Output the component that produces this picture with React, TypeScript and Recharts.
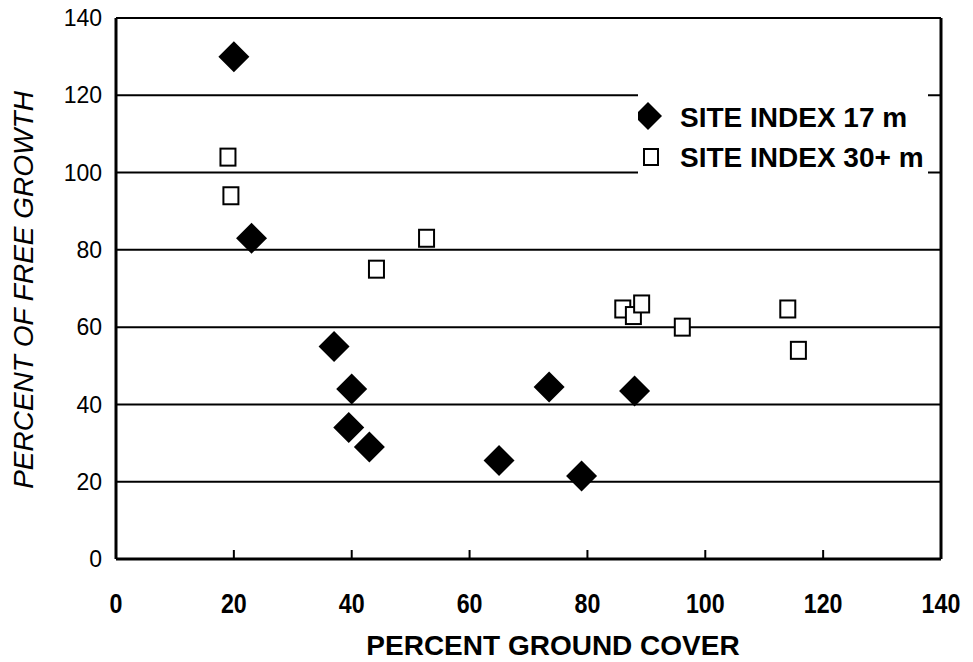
import React from "react";
import { ScatterChart, Scatter, XAxis, YAxis, CartesianGrid, ReferenceLine } from "recharts";

// values
const site17 = [
  { x: 20, y: 130 },
  { x: 23, y: 83 },
  { x: 37, y: 55 },
  { x: 40, y: 44 },
  { x: 39.5, y: 34 },
  { x: 43, y: 29 },
  { x: 65, y: 25.5 },
  { x: 73.5, y: 44.5 },
  { x: 79, y: 21.5 },
  { x: 88, y: 43.5 },
];

const site30 = [
  { x: 19, y: 104 },
  { x: 19.5, y: 94 },
  { x: 44.2, y: 75 },
  { x: 52.7, y: 83 },
  { x: 86, y: 64.7 },
  { x: 87.8, y: 63 },
  { x: 89.2, y: 66 },
  { x: 96.1, y: 60 },
  { x: 114, y: 64.7 },
  { x: 115.8, y: 54 },
];

const axisTicks = [0, 20, 40, 60, 80, 100, 120, 140];
const seriesNames = ["SITE INDEX 17 m", "SITE INDEX 30+ m"];

const FONT = "'Liberation Sans', Arial, sans-serif";

const Diamond = ({ cx, cy }: any) => (
  <polygon
    points={`${cx},${cy - 15.5} ${cx + 15.5},${cy} ${cx},${cy + 15.5} ${cx - 15.5},${cy}`}
    fill="#000"
  />
);

const Square = ({ cx, cy }: any) => (
  <rect x={cx - 7.5} y={cy - 8.5} width={15} height={17} fill="#fff" stroke="#000" strokeWidth={2} />
);

const XTick = ({ x, y, payload }: any) => (
  <g>
    {payload.value > 0 && payload.value < 140 && (
      <line x1={x} x2={x} y1={y} y2={y - 9} stroke="#000" strokeWidth={2} />
    )}
    <text
      transform={`translate(${x},${y + 54}) scale(0.83,1)`}
      textAnchor="middle"
      fontSize={28}
      fontWeight="bold"
      fontFamily={FONT}
      fill="#000"
    >
      {payload.value}
    </text>
  </g>
);

// legend box sits over the gridlines, like the original
const LegendBox = () => (
  <svg width={290} height={88} style={{ position: "absolute", left: 638, top: 92, display: "block" }}>
    <rect x={0} y={0} width={290} height={88} fill="#fff" />
    <polygon points="10,10 24,24 10,38 -4,24" fill="#000" />
    <text x={42} y={35} fontSize={28} fontWeight="bold" fontFamily={FONT} fill="#000">
      {seriesNames[0]}
    </text>
    <rect x={6} y={57} width={14} height={16} fill="#fff" stroke="#000" strokeWidth={2} />
    <text x={42} y={75} fontSize={28} fontWeight="bold" fontFamily={FONT} fill="#000">
      {seriesNames[1]}
    </text>
  </svg>
);

export default function App() {
  return (
    <div style={{ position: "absolute", left: 0, top: 0, width: 973, height: 662, background: "#fff" }}>
      <ScatterChart width={973} height={662} margin={{ top: 18, right: 32, bottom: 0, left: 0 }}>
        <CartesianGrid vertical={false} stroke="#000" strokeWidth={2} />
        <XAxis
          type="number"
          dataKey="x"
          domain={[0, 140]}
          ticks={axisTicks}
          height={103}
          axisLine={{ stroke: "#000", strokeWidth: 3 }}
          tickLine={false}
          tickSize={0}
          tickMargin={0}
          tick={<XTick />}
          label={{
            content: () => (
              <text x={553} y={655} textAnchor="middle" fontSize={28} fontWeight="bold" fontFamily={FONT} fill="#000">
                PERCENT GROUND COVER
              </text>
            ),
          }}
        />
        <YAxis
          type="number"
          dataKey="y"
          domain={[0, 140]}
          ticks={axisTicks}
          width={116}
          axisLine={{ stroke: "#000", strokeWidth: 3 }}
          tickLine={false}
          tickSize={0}
          tickMargin={14}
          tick={{ fill: "#000", fontSize: 23, fontFamily: FONT }}
          label={{
            content: () => (
              <text
                transform="translate(33,290) rotate(-90)"
                textAnchor="middle"
                fontSize={28}
                fontStyle="italic"
                fontFamily={FONT}
                fill="#000"
              >
                PERCENT OF FREE GROWTH
              </text>
            ),
          }}
        />
        <ReferenceLine x={140} stroke="#000" strokeWidth={3} />
        <Scatter name={seriesNames[0]} data={site17} shape={<Diamond />} isAnimationActive={false} />
        <Scatter name={seriesNames[1]} data={site30} shape={<Square />} isAnimationActive={false} />
      </ScatterChart>
      <LegendBox />
    </div>
  );
}
